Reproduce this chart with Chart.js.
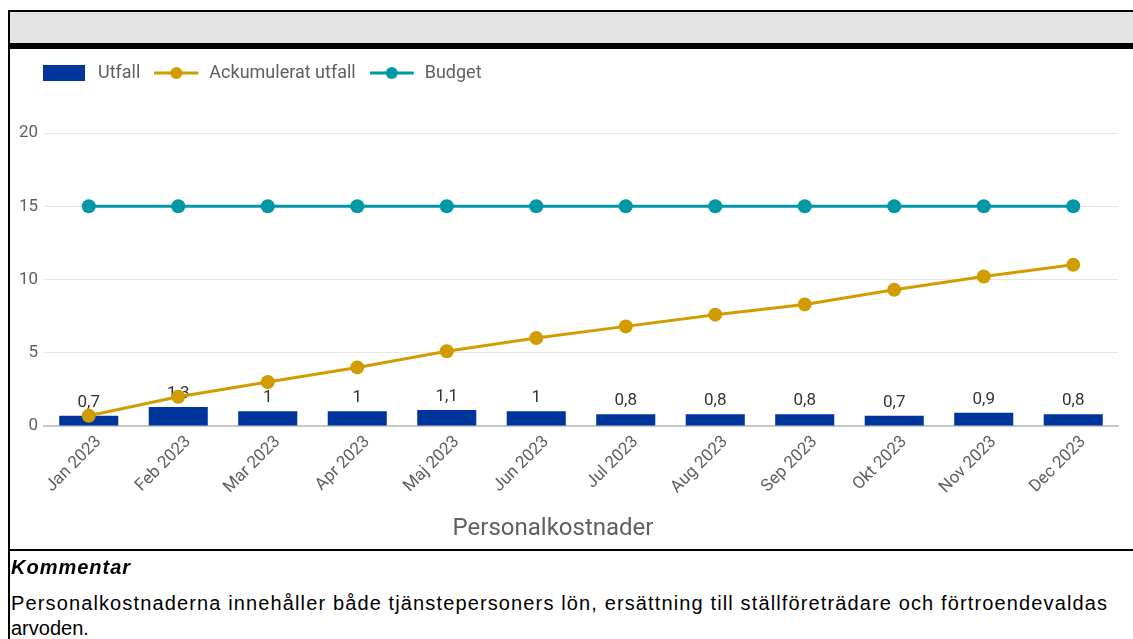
<!DOCTYPE html>
<html lang="sv">
<head>
<meta charset="utf-8">
<title>Personalkostnader</title>
<script src="https://cdn.jsdelivr.net/npm/chart.js@4"></script>
<style>
  html, body { margin: 0; padding: 0; background: #fff; }
  body { width: 1133px; height: 639px; position: relative; overflow: hidden; }
  .band { position: absolute; left: 8px; top: 10px; right: 0; height: 33px; background: #e4e4e4;
          border-top: 2px solid #000; border-left: 2px solid #000; box-sizing: border-box; }
  .band-rule { position: absolute; left: 8px; top: 43px; right: 0; height: 6px; background: #000; }
  .side { position: absolute; left: 8px; top: 10px; width: 2px; bottom: 0; background: #000; }
  .chart-box { position: absolute; left: 10px; top: 49px; width: 1123px; height: 501px; }
  .split { position: absolute; left: 8px; top: 549px; right: 0; height: 2px; background: #000; }
  .comment { position: absolute; left: 11px; right: 0; font-family: "Liberation Sans", Arial, sans-serif;
             font-size: 20px; line-height: 24px; color: #000; white-space: nowrap; }
  .c-head { top: 555px; font-weight: bold; font-style: italic; letter-spacing: 1px; }
  .c-line1 { top: 591px; }
  .c-line2 { top: 616px; }
</style>
</head>
<body>
<div class="band"></div>
<div class="band-rule"></div>
<div class="side"></div>
<div class="chart-box"><canvas id="costChart"></canvas></div>
<div class="split"></div>
<div class="comment c-head">Kommentar</div>
<div class="comment c-line1"><span id="commentText">Personalkostnaderna innehåller både tjänstepersoners lön, ersättning till ställföreträdare och förtroendevaldas</span></div>
<div class="comment c-line2">arvoden.</div>

<script>
const months = ['Jan 2023', 'Feb 2023', 'Mar 2023', 'Apr 2023', 'Maj 2023', 'Jun 2023',
                'Jul 2023', 'Aug 2023', 'Sep 2023', 'Okt 2023', 'Nov 2023', 'Dec 2023'];
const utfall = [0.7, 1.3, 1, 1, 1.1, 1, 0.8, 0.8, 0.8, 0.7, 0.9, 0.8];
const ackumulerat = [0.7, 2.0, 3.0, 4.0, 5.1, 6.0, 6.8, 7.6, 8.3, 9.3, 10.2, 11.0];
const budget = [15, 15, 15, 15, 15, 15, 15, 15, 15, 15, 15, 15];
const yTicks = [0, 5, 10, 15, 20];
const axisTitle = 'Personalkostnader';

const BLUE = '#00359c';
const GOLD = '#d19c00';
const TEAL = '#0098a6';
const TEXT = '#5f5f5f';

document.addEventListener('DOMContentLoaded', function() {
  fitCommentLine();
  initCostChart();
});

/**
 * Stretch the long comment line to the width it has in the original document
 */
function fitCommentLine() {
  const span = document.getElementById('commentText');
  if (!span) return;
  const target = 1097;
  const w = span.getBoundingClientRect().width;
  const chars = span.textContent.length;
  span.style.letterSpacing = ((target - w) / chars).toFixed(2) + 'px';
}

/**
 * Small canvases used as legend symbols
 */
function legendSwatch(color, isLine) {
  const c = document.createElement('canvas');
  c.width = 46;
  c.height = 16;
  const g = c.getContext('2d');
  if (isLine) {
    g.strokeStyle = color;
    g.lineWidth = 3;
    g.beginPath();
    g.moveTo(0, 8);
    g.lineTo(44, 8);
    g.stroke();
    g.fillStyle = color;
    g.beginPath();
    g.arc(22, 8, 6, 0, Math.PI * 2);
    g.fill();
  } else {
    g.fillStyle = color;
    g.fillRect(0, 0, 42, 16);
  }
  return c;
}

// value labels above the bars, drawn before the lines
const barLabels = {
  id: 'barLabels',
  afterDatasetDraw(chart, args) {
    if (args.index !== 0) return;
    const ctx = chart.ctx;
    ctx.save();
    ctx.font = '17px Roboto';
    ctx.fillStyle = '#333333';
    ctx.textAlign = 'center';
    ctx.textBaseline = 'alphabetic';
    args.meta.data.forEach(function(bar, i) {
      ctx.fillText(String(utfall[i]).replace('.', ','), bar.x, bar.y - 9);
    });
    ctx.restore();
  }
};

// legend: fixed height and pushed in line with the plot
const legendSpace = {
  id: 'legendSpace',
  beforeInit(chart) {
    const origFit = chart.legend.fit;
    chart.legend.fit = function() {
      origFit.bind(chart.legend)();
      this.height = 83;
    };
  },
  afterLayout(chart) {
    chart.legend.left += 19;
    chart.legend.right += 19;
  }
};

// x axis title, centred a little left of the plot like the original
const axisTitlePlugin = {
  id: 'axisTitle',
  afterDraw(chart) {
    const ctx = chart.ctx;
    const area = chart.chartArea;
    ctx.save();
    ctx.font = '24px Roboto';
    ctx.fillStyle = TEXT;
    ctx.textAlign = 'center';
    ctx.textBaseline = 'middle';
    ctx.fillText(axisTitle, (area.left + area.right) / 2 - 28, chart.height - 21);
    ctx.restore();
  }
};

function initCostChart() {
  const ctx = document.getElementById('costChart');
  if (!ctx) return;

  const swatches = [legendSwatch(BLUE, false), legendSwatch(GOLD, true), legendSwatch(TEAL, true)];

  const chart = new Chart(ctx, {
    type: 'bar',
    data: {
      labels: months,
      datasets: [
        {
          label: 'Utfall',
          data: utfall,
          backgroundColor: BLUE,
          barPercentage: 0.66,
          categoryPercentage: 1,
          order: 3
        },
        {
          type: 'line',
          label: 'Ackumulerat utfall',
          data: ackumulerat,
          borderColor: GOLD,
          backgroundColor: GOLD,
          borderWidth: 3,
          pointRadius: 7,
          pointHoverRadius: 7,
          pointBorderWidth: 0,
          tension: 0,
          order: 1
        },
        {
          type: 'line',
          label: 'Budget',
          data: budget,
          borderColor: TEAL,
          backgroundColor: TEAL,
          borderWidth: 3,
          pointRadius: 7,
          pointHoverRadius: 7,
          pointBorderWidth: 0,
          tension: 0,
          order: 2
        }
      ]
    },
    options: {
      responsive: true,
      maintainAspectRatio: false,
      animation: false,
      layout: {
        padding: { top: 1, right: 15, bottom: 0, left: 0 }
      },
      plugins: {
        legend: {
          position: 'top',
          align: 'start',
          labels: {
            usePointStyle: true,
            pointStyleWidth: 46,
            boxHeight: 16,
            padding: 14,
            color: TEXT,
            font: { family: 'Roboto', size: 18 },
            generateLabels: function(ch) {
              return ch.data.datasets.map(function(ds, i) {
                return {
                  text: ds.label,
                  pointStyle: swatches[i],
                  fontColor: TEXT,
                  hidden: false,
                  datasetIndex: i,
                  lineWidth: 0
                };
              });
            }
          }
        },
        tooltip: { enabled: false },
        title: { display: false }
      },
      scales: {
        y: {
          min: 0,
          max: 20,
          afterFit: function(scale) { scale.width = 34; },
          afterBuildTicks: function(scale) {
            scale.ticks = yTicks.map(function(v) { return { value: v }; });
          },
          ticks: {
            padding: 6,
            color: TEXT,
            font: { family: 'Roboto', size: 17 }
          },
          grid: {
            color: '#e6e6e6',
            drawTicks: false
          },
          border: { display: false }
        },
        x: {
          afterFit: function(scale) { scale.height = 124; },
          grid: {
            display: false,
            drawTicks: false
          },
          border: { color: '#c8c8c8', width: 2 },
          ticks: {
            minRotation: 45,
            maxRotation: 45,
            padding: 6,
            labelOffset: 10,
            color: TEXT,
            font: { family: 'Roboto', size: 17 }
          },
          title: { display: false }
        }
      }
    },
    plugins: [barLabels, legendSpace, axisTitlePlugin]
  });
}
</script>
</body>
</html>
